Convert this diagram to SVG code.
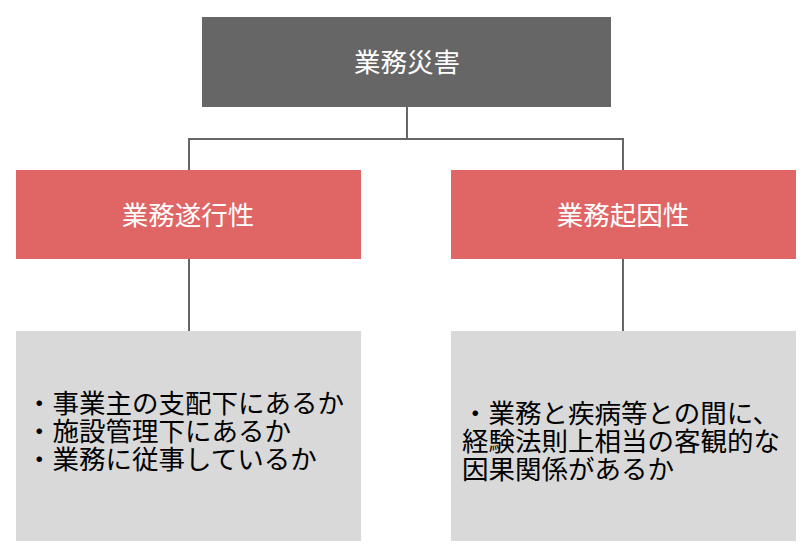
<svg xmlns="http://www.w3.org/2000/svg" width="808" height="549" viewBox="0 0 808 549">
<style>
.t{font-family:"Noto Sans CJK JP","Noto Sans CJK SC",sans-serif;font-size:26.5px}
.tb{font-family:"Liberation Sans","Noto Sans CJK JP","Noto Sans CJK SC",sans-serif;font-size:26.5px}
.w{fill:#ffffff;text-anchor:middle}
.b{fill:#000000}
.ln{stroke:#666666;stroke-width:2;fill:none}
</style>
<rect width="808" height="549" fill="#ffffff"/>
<g id="connectors">
<path class="ln" d="M407,107 V139 M189,139 H623 M189,138 V170 M623,138 V170"/>
<path class="ln" d="M189,259 V331 M623,259 V331"/>
</g>
<g id="root">
<rect x="202" y="17" width="409" height="90" fill="#666666"/>
<text class="t w" x="407" y="72">業務災害</text>
</g>
<g id="left-head">
<rect x="16" y="170" width="345" height="89" fill="#E06666"/>
<text class="t w" x="188" y="225">業務遂行性</text>
</g>
<g id="right-head">
<rect x="451" y="170" width="345" height="89" fill="#E06666"/>
<text class="t w" x="623" y="225">業務起因性</text>
</g>
<g id="left-body">
<rect x="16" y="331" width="345" height="210" fill="#D9D9D9"/>
<text class="tb b"><tspan x="26" y="413">・事業主の支配下にあるか</tspan><tspan x="26" y="441">・施設管理下にあるか</tspan><tspan x="26" y="469">・業務に従事しているか</tspan></text>
</g>
<g id="right-body">
<rect x="451" y="331" width="345" height="210" fill="#D9D9D9"/>
<text class="tb b"><tspan x="462" y="423">・業務と疾病等との間に、</tspan><tspan x="462" y="451">経験法則上相当の客観的な</tspan><tspan x="462" y="479">因果関係があるか</tspan></text>
</g>
</svg>
